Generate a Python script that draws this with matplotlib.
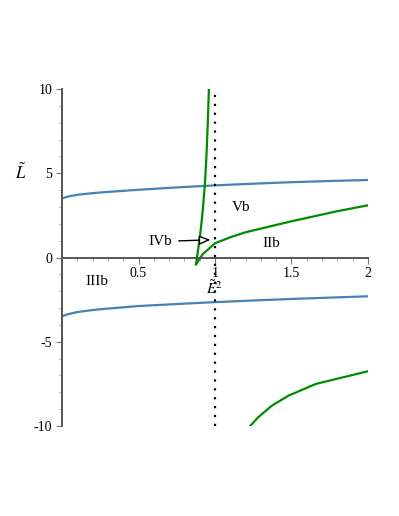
import matplotlib.pyplot as plt
from matplotlib.ticker import MultipleLocator

# upper and lower blue branches
blue_x = [0.0, 0.02, 0.05, 0.1, 0.18, 0.25, 0.5, 0.75, 1.0, 1.25, 1.5, 1.75, 2.0]
blue_up = [3.5, 3.57, 3.64, 3.72, 3.8, 3.86, 4.02, 4.16, 4.28, 4.38, 4.47, 4.54, 4.6]
blue_lo = [-3.5, -3.42, -3.34, -3.24, -3.14, -3.07, -2.88, -2.76, -2.65, -2.55, -2.46, -2.38, -2.3]

# green branches
g1_x = [0.876, 0.89, 0.905, 0.92, 0.935, 0.945, 0.953, 0.96]
g1_y = [-0.4, 0.5, 1.5, 2.8, 4.5, 6.2, 8.0, 10.0]
g2_x = [0.876, 0.92, 0.97, 1.0, 1.1, 1.2, 1.5, 1.8, 2.0]
g2_y = [-0.4, 0.2, 0.6, 0.85, 1.2, 1.5, 2.15, 2.75, 3.1]
g3_x = [1.23, 1.28, 1.37, 1.48, 1.66, 2.0]
g3_y = [-10.0, -9.5, -8.8, -8.2, -7.5, -6.75]

plt.rcParams['font.family'] = ['Liberation Serif', 'DejaVu Serif']
plt.rcParams['mathtext.fontset'] = 'stix'

fig = plt.figure(figsize=(3.99, 5.16), dpi=100)
ax = fig.add_axes([0.1554, 0.1744, 0.7669, 0.6531])

blue = '#4682b4'
green = '#008c00'
ax.plot(blue_x, blue_up, color=blue, lw=1.6)
ax.plot(blue_x, blue_lo, color=blue, lw=1.6)
ax.plot(g1_x, g1_y, color=green, lw=1.6)
ax.plot(g2_x, g2_y, color=green, lw=1.6)
ax.plot(g3_x, g3_y, color=green, lw=1.6)
ax.plot([1, 1], [-10, 10], color='black', lw=1.6, linestyle=(0, (1, 3)))

ax.set_xlim(0, 2)
ax.set_ylim(-10, 10)

for s in ['top', 'right']:
    ax.spines[s].set_visible(False)
ax.spines['bottom'].set_position(('data', 0))
ax.spines['left'].set_position(('data', 0))
for s in ['bottom', 'left']:
    ax.spines[s].set_color('#555555')
    ax.spines[s].set_linewidth(1.4)

ax.set_xticks([0.5, 1, 1.5, 2])
ax.set_xticklabels(['0.5', '1', '1.5', '2'])
ax.set_yticks([-10, -5, 0, 5, 10])
ax.set_yticklabels(['-10', '-5', '0', '5', '10'])
ax.xaxis.set_minor_locator(MultipleLocator(0.1))
ax.yaxis.set_minor_locator(MultipleLocator(1))
ax.tick_params(axis='both', which='major', length=4, color='#777777', labelsize=10, pad=3)
ax.tick_params(axis='both', which='minor', length=2, color='#999999')

ax.text(-0.27, 5.0, r'$\tilde{L}$', fontsize=12, ha='center', va='center')
ax.text(0.995, -1.8, r'$\tilde{E}^2$', fontsize=11, ha='center', va='center')

ax.text(1.17, 2.95, 'Vb', fontsize=11, ha='center', va='center')
ax.text(1.37, 0.85, 'IIb', fontsize=11, ha='center', va='center')
ax.text(0.23, -1.45, 'IIIb', fontsize=11, ha='center', va='center')
ax.annotate('IVb', xy=(0.97, 1.05), xytext=(0.64, 0.95), fontsize=11,
            ha='center', va='center',
            arrowprops=dict(arrowstyle='-|>,head_length=0.6,head_width=0.25',
                            fc='white', ec='black', lw=1,
                            shrinkA=3, shrinkB=0))

plt.savefig('out.png', dpi=100)
